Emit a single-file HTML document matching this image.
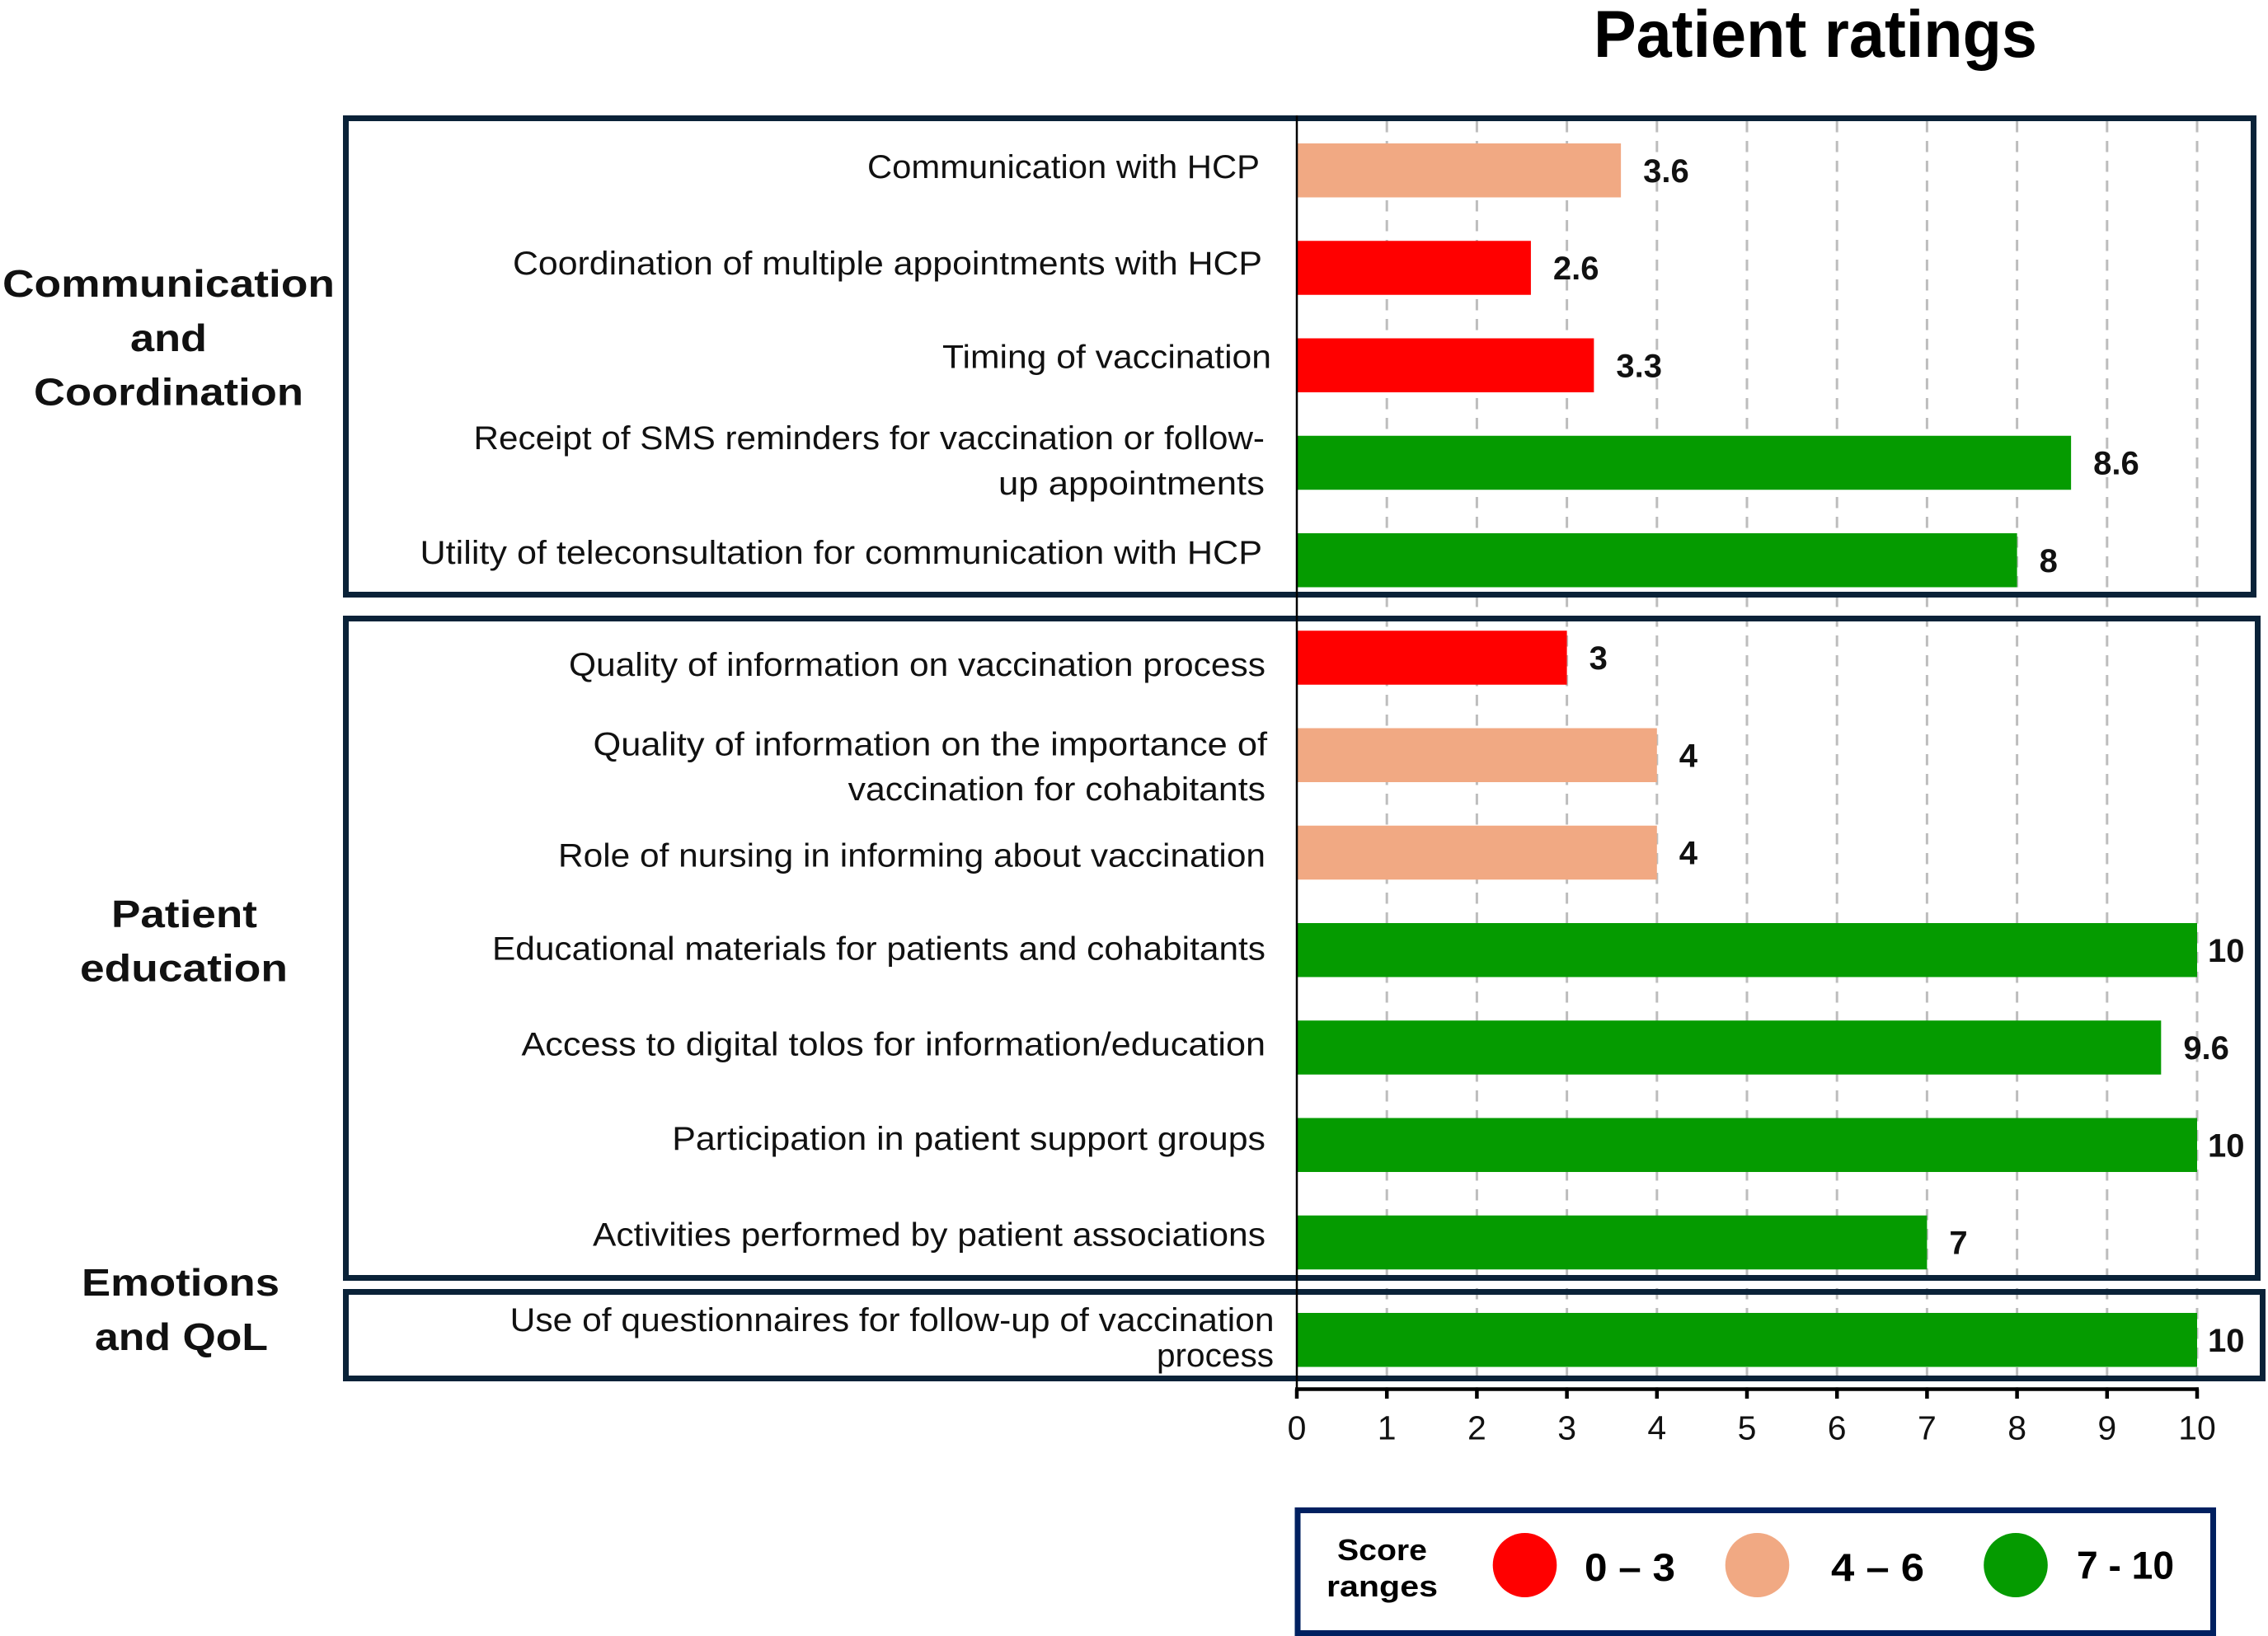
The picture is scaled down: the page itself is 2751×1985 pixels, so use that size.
<!DOCTYPE html>
<html lang="en">
<head>
<meta charset="utf-8">
<title>Patient ratings</title>
<style>
html,body{margin:0;padding:0;background:#fff}
svg{display:block}
text{font-family:"Liberation Sans",sans-serif}
.cat{font-size:40px;fill:#111}
.grp{font-size:46px;font-weight:bold;fill:#111;text-anchor:start}
.box{fill:none;stroke:#0a2238;stroke-width:7}
</style>
</head>
<body>
<svg id="chart" xmlns="http://www.w3.org/2000/svg" width="2751" height="1985" viewBox="0 0 2751 1985">
<rect x="0" y="0" width="2751" height="1985" fill="#fff"/>
<text x="1933" y="69" font-size="81" font-weight="bold" fill="#000" textLength="538" lengthAdjust="spacingAndGlyphs">Patient ratings</text>
<g id="grid"></g>
<g>
<rect class="box" x="419.5" y="143.5" width="2314" height="578"/>
<rect class="box" x="419.5" y="750.5" width="2319" height="800"/>
<rect class="box" x="419.5" y="1567.5" width="2325" height="105"/>
</g>
<g>
<text class="grp" x="3" y="360" textLength="403" lengthAdjust="spacingAndGlyphs">Communication</text>
<text class="grp" x="158" y="426" textLength="93" lengthAdjust="spacingAndGlyphs">and</text>
<text class="grp" x="41" y="491.7" textLength="327" lengthAdjust="spacingAndGlyphs">Coordination</text>
<text class="grp" x="135" y="1125" textLength="177" lengthAdjust="spacingAndGlyphs">Patient</text>
<text class="grp" x="97" y="1190.7" textLength="252" lengthAdjust="spacingAndGlyphs">education</text>
<text class="grp" x="99" y="1572" textLength="240" lengthAdjust="spacingAndGlyphs">Emotions</text>
<text class="grp" x="115" y="1638" textLength="210" lengthAdjust="spacingAndGlyphs">and QoL</text>
</g>
<g>
<text class="cat" x="1052" y="216" textLength="476" lengthAdjust="spacingAndGlyphs">Communication with HCP</text>
<text class="cat" x="622" y="333" textLength="909" lengthAdjust="spacingAndGlyphs">Coordination of multiple appointments with HCP</text>
<text class="cat" x="1143" y="446.5" textLength="399" lengthAdjust="spacingAndGlyphs">Timing of vaccination</text>
<text class="cat" x="574.5" y="545" textLength="959.5" lengthAdjust="spacingAndGlyphs">Receipt of SMS reminders for vaccination or follow-</text>
<text class="cat" x="1211" y="600" textLength="323" lengthAdjust="spacingAndGlyphs">up appointments</text>
<text class="cat" x="509.5" y="684" textLength="1021.5" lengthAdjust="spacingAndGlyphs">Utility of teleconsultation for communication with HCP</text>
<text class="cat" x="690" y="820" textLength="845" lengthAdjust="spacingAndGlyphs">Quality of information on vaccination process</text>
<text class="cat" x="719.5" y="916.7" textLength="817.5" lengthAdjust="spacingAndGlyphs">Quality of information on the importance of</text>
<text class="cat" x="1028.6" y="971" textLength="506.4" lengthAdjust="spacingAndGlyphs">vaccination for cohabitants</text>
<text class="cat" x="677" y="1051.7" textLength="858" lengthAdjust="spacingAndGlyphs">Role of nursing in informing about vaccination</text>
<text class="cat" x="597" y="1164.3" textLength="938" lengthAdjust="spacingAndGlyphs">Educational materials for patients and cohabitants</text>
<text class="cat" x="632.5" y="1280.7" textLength="902.5" lengthAdjust="spacingAndGlyphs">Access to digital tolos for information/education</text>
<text class="cat" x="815.3" y="1395" textLength="719.7" lengthAdjust="spacingAndGlyphs">Participation in patient support groups</text>
<text class="cat" x="719" y="1511.7" textLength="816" lengthAdjust="spacingAndGlyphs">Activities performed by patient associations</text>
<text class="cat" x="618.7" y="1615" textLength="926.8" lengthAdjust="spacingAndGlyphs">Use of questionnaires for follow-up of vaccination</text>
<text class="cat" x="1403" y="1658" textLength="142" lengthAdjust="spacingAndGlyphs">process</text>
</g>
<g id="bars"></g>
<g id="values"></g>
<g id="axis"></g>
<g>
<rect x="1574" y="1832.5" width="1110.5" height="149" fill="#fff" stroke="#002060" stroke-width="7"/>
<text x="1622" y="1893" font-size="36" font-weight="bold" fill="#000" textLength="109" lengthAdjust="spacingAndGlyphs">Score</text>
<text x="1609" y="1937" font-size="36" font-weight="bold" fill="#000" textLength="135" lengthAdjust="spacingAndGlyphs">ranges</text>
<ellipse cx="1849.5" cy="1899" rx="38.8" ry="39" fill="#ff0000"/>
<text x="1922" y="1918" font-size="47" font-weight="bold" fill="#000" textLength="110" lengthAdjust="spacingAndGlyphs">0 – 3</text>
<ellipse cx="2131.5" cy="1899" rx="38.8" ry="39" fill="#f1a983"/>
<text x="2221" y="1918" font-size="47" font-weight="bold" fill="#000" textLength="113" lengthAdjust="spacingAndGlyphs">4 – 6</text>
<ellipse cx="2445" cy="1899" rx="38.8" ry="39" fill="#059b00"/>
<text x="2519" y="1915.7" font-size="47" font-weight="bold" fill="#000" textLength="118" lengthAdjust="spacingAndGlyphs">7 - 10</text>
</g>
</svg>
<script>
const categories = [
  "Communication with HCP",
  "Coordination of multiple appointments with HCP",
  "Timing of vaccination",
  "Receipt of SMS reminders for vaccination or follow-up appointments",
  "Utility of teleconsultation for communication with HCP",
  "Quality of information on vaccination process",
  "Quality of information on the importance of vaccination for cohabitants",
  "Role of nursing in informing about vaccination",
  "Educational materials for patients and cohabitants",
  "Access to digital tolos for information/education",
  "Participation in patient support groups",
  "Activities performed by patient associations",
  "Use of questionnaires for follow-up of vaccination process"
];
const ratings = [3.6, 2.6, 3.3, 8.6, 8, 3, 4, 4, 10, 9.6, 10, 7, 10];
const tickLabels = [0, 1, 2, 3, 4, 5, 6, 7, 8, 9, 10];

const NS = "http://www.w3.org/2000/svg";
const plotLeft = 1573;
const plotRight = 2665;
const domainMax = 10;
const bandStart = 174;
const bandStep = 118.25;
const barHeight = 65.5;
const gridTop = 147;
const axisY = 1685.5;

function xScale(v) { return plotLeft + (plotRight - plotLeft) * v / domainMax; }
function yBand(i) { return bandStart + bandStep * i; }
function bandColor(v) {
  if (v < 3.5) return "#ff0000";
  if (v < 6.5) return "#f1a983";
  return "#059b00";
}
function make(tag, parent, attrs) {
  const el = document.createElementNS(NS, tag);
  for (const k in attrs) el.setAttribute(k, attrs[k]);
  parent.appendChild(el);
  return el;
}

const gridG = document.getElementById("grid");
const barsG = document.getElementById("bars");
const valuesG = document.getElementById("values");
const axisG = document.getElementById("axis");

tickLabels.forEach(function (t) {
  if (t === 0) return;
  const line = make("line", gridG, { x1: xScale(t), x2: xScale(t), y1: gridTop, y2: axisY, stroke: "#bdbdbd", "stroke-width": 3, "stroke-dasharray": "13.5 10.5" });
  
  
});

ratings.forEach(function (v, i) {
  const bar = make("rect", barsG, { x: xScale(0) + 1, y: yBand(i), width: xScale(v) - xScale(0) - 1, height: barHeight, fill: bandColor(v) });
  
  
  const title = make("title", bar, {});
  title.textContent = categories[i] + ": " + v;
  const labelX = Math.min(xScale(v) + 27, xScale(domainMax) + 13);
  const label = make("text", valuesG, { x: labelX, y: yBand(i) + barHeight / 2 + 14, "font-size": 40, "font-weight": "bold", fill: "#111" });
  
  
  label.textContent = String(v);
});

const spine = make("line", axisG, { x1: plotLeft, x2: plotLeft, y1: 140, y2: 1697, stroke: "#000", "stroke-width": 2.5 });


const domain = make("line", axisG, { x1: xScale(0) - 2, x2: xScale(domainMax) + 2, y1: axisY, y2: axisY, stroke: "#000", "stroke-width": 4.5 });


tickLabels.forEach(function (t) {
  const tick = make("line", axisG, { x1: xScale(t), x2: xScale(t), y1: axisY, y2: 1697, stroke: "#000", "stroke-width": 4.5 });
  
  
  const tl = make("text", axisG, { x: xScale(t), y: 1746.7, "font-size": 41, "text-anchor": "middle", fill: "#111" });
  
  
  tl.textContent = String(t);
});
</script>
</body>
</html>
